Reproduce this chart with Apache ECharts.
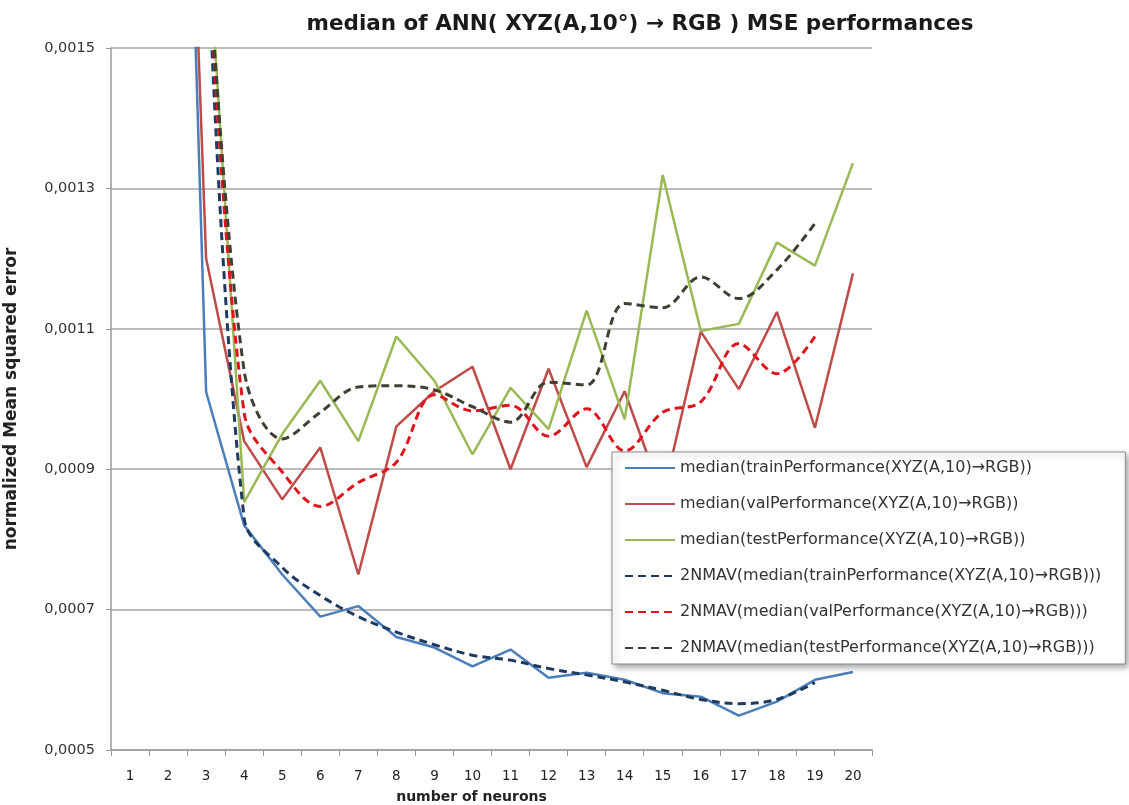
<!DOCTYPE html>
<html>
<head>
<meta charset="utf-8">
<script src="https://cdn.jsdelivr.net/npm/echarts@6/dist/echarts.min.js"></script>
<style>html,body{margin:0;padding:0;background:#fff;}#c{width:1129px;height:805px;}</style>
</head>
<body>
<div id="c"></div>
<script>
const categories = ['1','2','3','4','5','6','7','8','9','10','11','12','13','14','15','16','17','18','19','20'];
const yTicks = [0.0005, 0.0007, 0.0009, 0.0011, 0.0013, 0.0015];

const trainMedian = [0.0052, 0.0028, 0.00101, 0.00082, 0.00075, 0.00069, 0.000705, 0.000661, 0.000646, 0.000619, 0.000643, 0.000603, 0.00061, 0.0006, 0.000581, 0.000576, 0.000549, 0.000569, 0.0006, 0.000611];
const valMedian = [0.005, 0.00268, 0.0012, 0.00094, 0.000857, 0.000931, 0.00075, 0.000961, 0.001011, 0.001046, 0.0009, 0.001043, 0.000903, 0.001011, 0.00086, 0.001096, 0.001014, 0.001124, 0.000959, 0.001179];
const testMedian = [null, null, 0.0017, 0.000853, 0.00095, 0.001026, 0.00094, 0.001089, 0.001026, 0.000921, 0.001016, 0.000957, 0.001126, 0.000971, 0.001319, 0.001097, 0.001107, 0.001223, 0.00119, 0.001336];
const trainAvg = [null, null, 0.0017, 0.00083, 0.00076, 0.00072, 0.00069, 0.000668, 0.00065, 0.000635, 0.000628, 0.000616, 0.000607, 0.000597, 0.000585, 0.000572, 0.000566, 0.000572, 0.000596, null];
const valAvg = [null, null, 0.0017, 0.00098, 0.000896, 0.000847, 0.000881, 0.00091, 0.001006, 0.000983, 0.000991, 0.000947, 0.000986, 0.000926, 0.000981, 0.000996, 0.001079, 0.001036, 0.001089, null];
const testAvg = [null, null, 0.0017, 0.00104, 0.000943, 0.000981, 0.001017, 0.001019, 0.001013, 0.000989, 0.000967, 0.001024, 0.00102, 0.001136, 0.00113, 0.001174, 0.001143, 0.001184, 0.00125, null];

const seriesNames = [
  'median(trainPerformance(XYZ(A,10)\u2192RGB))',
  'median(valPerformance(XYZ(A,10)\u2192RGB))',
  'median(testPerformance(XYZ(A,10)\u2192RGB))',
  '2NMAV(median(trainPerformance(XYZ(A,10)\u2192RGB)))',
  '2NMAV(median(valPerformance(XYZ(A,10)\u2192RGB)))',
  '2NMAV(median(testPerformance(XYZ(A,10)\u2192RGB)))'
];

const FONT = '"DejaVu Sans"';
const chart = echarts.init(document.getElementById('c'));

function solid(name, data, color) {
  return { name, type: 'line', data, symbol: 'none', smooth: false, connectNulls: false,
    lineStyle: { color, width: 2.5 }, itemStyle: { color }, z: 2 };
}
function dashed(name, data, color) {
  return { name, type: 'line', data, symbol: 'none', smooth: 0.35, connectNulls: false,
    lineStyle: { color, width: 3, type: [8, 5] }, itemStyle: { color }, z: 3 };
}

chart.setOption({
  animation: false,
  backgroundColor: '#ffffff',
  title: {
    text: 'median of ANN( XYZ(A,10\u00b0) \u2192 RGB ) MSE performances',
    left: 635, top: 8, textAlign: 'center',
    textStyle: { fontFamily: FONT, fontWeight: 'bold', fontSize: 21.5, color: '#1a1a1a' }
  },
  grid: { left: 111, right: 257, top: 48, bottom: 55, containLabel: false, outerBoundsMode: 'none' },
  legend: {
    orient: 'vertical', left: 612, top: 452,
    padding: [8, 24, 8, 12],
    itemWidth: 50, itemHeight: 14, itemGap: 20,
    backgroundColor: '#ffffff',
    borderColor: '#8c8c8c', borderWidth: 1,
    shadowColor: 'rgba(0,0,0,0.35)', shadowBlur: 6, shadowOffsetX: 3, shadowOffsetY: 3,
    itemStyle: { opacity: 0 },
    textStyle: { fontFamily: FONT, fontSize: 16, color: '#333' },
    data: seriesNames
  },
  xAxis: {
    type: 'category', data: categories, boundaryGap: true,
    name: 'number of neurons', nameLocation: 'middle', nameGap: 40,
    nameTextStyle: { fontFamily: FONT, fontWeight: 'bold', fontSize: 14, color: '#222', padding: [0, 40, 0, 0] },
    axisLine: { lineStyle: { color: '#9a9a9a', width: 1.5 } },
    axisTick: { show: true, length: 6, lineStyle: { color: '#9a9a9a' } },
    axisLabel: { fontFamily: FONT, fontSize: 13.5, color: '#222', margin: 19 },
    splitLine: { show: false }
  },
  yAxis: {
    type: 'value', min: yTicks[0], max: yTicks[yTicks.length - 1], interval: yTicks[1] - yTicks[0],
    name: 'normalized Mean squared error', nameLocation: 'middle', nameGap: 91,
    nameTextStyle: { fontFamily: FONT, fontWeight: 'bold', fontSize: 17, color: '#222' },
    axisLine: { show: true, lineStyle: { color: '#9a9a9a', width: 1.5 } },
    axisTick: { show: true, length: 5, lineStyle: { color: '#9a9a9a' } },
    axisLabel: { fontFamily: FONT, fontSize: 14.5, color: '#333', margin: 16,
      formatter: v => v.toFixed(4).replace('.', ',') },
    splitLine: { show: true, lineStyle: { color: '#a6a6a6', width: 1.5 } }
  },
  series: [
    solid(seriesNames[0], trainMedian, '#4a7ebb'),
    solid(seriesNames[1], valMedian, '#be4b48'),
    solid(seriesNames[2], testMedian, '#98b954'),
    dashed(seriesNames[3], trainAvg, '#1f3a60'),
    dashed(seriesNames[4], valAvg, '#e0151c'),
    dashed(seriesNames[5], testAvg, '#3f3f33')
  ]
});
</script>
</body>
</html>
